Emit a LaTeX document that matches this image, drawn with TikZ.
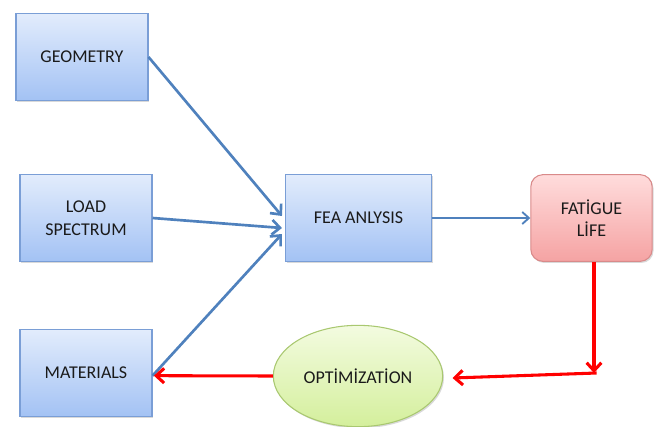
\documentclass[tikz,border=0pt]{standalone}
\usepackage{fontspec}
\setmainfont{Carlito}
\usetikzlibrary{arrows.meta,shadows,calc,shapes.geometric}
\definecolor{bluetop}{HTML}{E2ECFC}
\definecolor{bluebot}{HTML}{A3C2F4}
\definecolor{blueedge}{HTML}{7A9ED6}
\definecolor{redtop}{HTML}{FFDCDC}
\definecolor{redbot}{HTML}{F5A3A3}
\definecolor{rededge}{HTML}{D98A8A}
\definecolor{greentop}{HTML}{F3FBE0}
\definecolor{greenbot}{HTML}{D4EF9C}
\definecolor{greenedge}{HTML}{A9C870}
\definecolor{arrowblue}{HTML}{4F81BD}
\definecolor{txt}{HTML}{1A1A1A}
\begin{document}
\begin{tikzpicture}[x=0.75pt,y=-0.75pt,
  font=\fontsize{13.5}{17}\selectfont, text=txt,
  shad/.style={drop shadow={shadow xshift=1pt,shadow yshift=-1.2pt,opacity=0.25,fill=black!60}},
  bluebox/.style={shad,draw=blueedge,line width=0.8pt,top color=bluetop,bottom color=bluebot,
    minimum width=99pt,minimum height=65pt,inner sep=0pt,align=center},
  redbox/.style={shad,draw=rededge,line width=0.8pt,top color=redtop,bottom color=redbot,
    rounded corners=9pt,minimum width=91pt,minimum height=65pt,inner sep=0pt,align=center},
  greenell/.style={shad,draw=greenedge,line width=0.8pt,top color=greentop,bottom color=greenbot,
    ellipse,minimum width=127pt,minimum height=76pt,inner sep=0pt},
  bluearrow/.style={draw=arrowblue,line width=2pt,-{Straight Barb[length=6pt,width=11pt,line width=2pt]}},
  thinblue/.style={draw=arrowblue,line width=1.4pt,-{Straight Barb[length=5pt,width=9pt,line width=1.4pt]}},
  redarrow/.style={draw=red,line width=2.3pt,-{Straight Barb[length=6pt,width=11pt,line width=2.3pt]}}
]
\useasboundingbox (0,0) rectangle (661,426);
\node[bluebox] (geo) at (82,57) {GEOMETRY};
\node[bluebox] (load) at (86,218) {LOAD\\SPECTRUM};
\node[bluebox] (mat) at (86,373) {MATERIALS};
\node[bluebox,minimum width=110pt] (fea) at (358.5,218) {FEA ANLYSIS};
\node[redbox] (fat) at (591.5,218) {FATİGUE\\LİFE};
\node[greenell] (opt) at (358,376) {OPTİMİZATİON};
\coordinate (corner) at (594,373);
\draw[bluearrow] (geo.east) -- ([xshift=-2pt,yshift=1.5pt]fea.west);
\draw[bluearrow] (load.east) -- ([xshift=-2pt,yshift=-7.5pt]fea.west);
\draw[bluearrow] ([yshift=-2pt]mat.east) -- ([xshift=-2pt,yshift=-12pt]fea.west);
\draw[thinblue] (fea.east) -- (fat.west);
\draw[redarrow] (fat.south -| corner) -- (corner);
\draw[redarrow] ([xshift=2pt]corner) -- ([xshift=7pt,yshift=-1.5pt]opt.east);
\draw[redarrow] (opt.west) -- ([xshift=1pt,yshift=-2pt]mat.east);
\end{tikzpicture}
\end{document}
